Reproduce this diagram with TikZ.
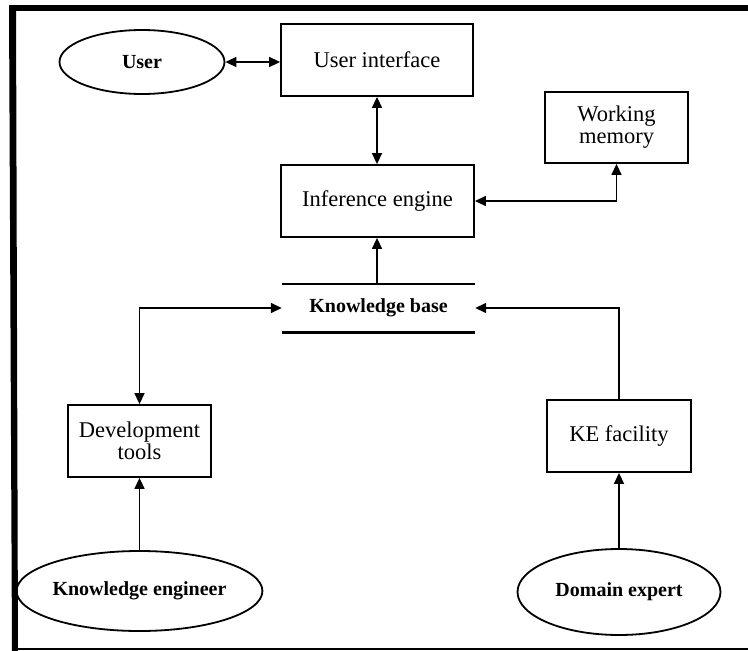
\documentclass[tikz,border=0pt]{standalone}
\usepackage{fontspec}
\setmainfont{Liberation Serif}
\usetikzlibrary{shapes.geometric,arrows.meta}
\tikzset{
  boxnode/.style={draw, line width=1.8pt, rectangle, inner sep=0pt, align=center,
    font=\fontsize{22.5}{22}\selectfont},
  actor/.style={draw, line width=1.8pt, ellipse, inner sep=0pt, align=center,
    font=\fontsize{20}{22}\selectfont\bfseries},
  conn/.style={line width=1.5pt, -{Triangle[length=11pt,width=10pt]}},
  biconn/.style={line width=1.5pt, {Triangle[length=11pt,width=10pt]}-{Triangle[length=11pt,width=10pt]}},
  kbline/.style={line width=2.6pt}
}
\begin{document}
\begin{tikzpicture}[x=1pt,y=-1pt]
\useasboundingbox (0,0) rectangle (748,651);
\fill[white] (0,0) rectangle (748,651);
% frame
\fill[black] (9,5) rectangle (748,11);
\fill[black] (9,5) -- (16,5) -- (18,651) -- (12,651) -- cycle;
\draw[line width=2pt] (14,649) -- (748,649);

% nodes
\node[actor, minimum width=165pt, minimum height=64pt] (user) at (142,62) {User};
\node[boxnode, minimum width=192pt, minimum height=72pt] (ui) at (377,60) {User interface};
\node[boxnode, minimum width=193pt, minimum height=72pt] (ie) at (377.5,201) {Inference engine};
\node[boxnode, minimum width=143pt, minimum height=71pt] (wm) at (616.5,127.5) {Working\\memory};
\node[inner sep=0pt, minimum width=193pt, minimum height=48pt,
      font=\fontsize{20}{22}\selectfont\bfseries] (kb) at (378.5,308) {Knowledge base};
\draw[kbline] (kb.north west) -- (kb.north east);
\draw[kbline] (kb.south west) -- (kb.south east);
\node[boxnode, minimum width=143pt, minimum height=72pt] (dt) at (139.5,441) {Development\\tools};
\node[boxnode, minimum width=144pt, minimum height=72pt] (kef) at (619,436) {KE facility};
\node[actor, minimum width=208pt, minimum height=80pt] (ke) at (139.5,591) {Knowledge engineer};
\node[actor, minimum width=203pt, minimum height=86pt] (de) at (619,592) {Domain expert};

% connectors
\draw[biconn] (user.east) -- (ui.west |- user.east);
\draw[biconn] (ui.south -| 377,0) -- (ie.north -| 377,0);
\draw[conn] (kb.north -| 377,0) -- (ie.south -| 377,0);
\draw[biconn] (ie.east) -| (wm.south);
\draw[biconn] (kb.west) -| (dt.north);
\draw[conn] (kef.north) |- (kb.east);
\draw[conn] (ke.north) -- (dt.south);
\draw[conn] (de.north) -- (kef.south);
\end{tikzpicture}
\end{document}
